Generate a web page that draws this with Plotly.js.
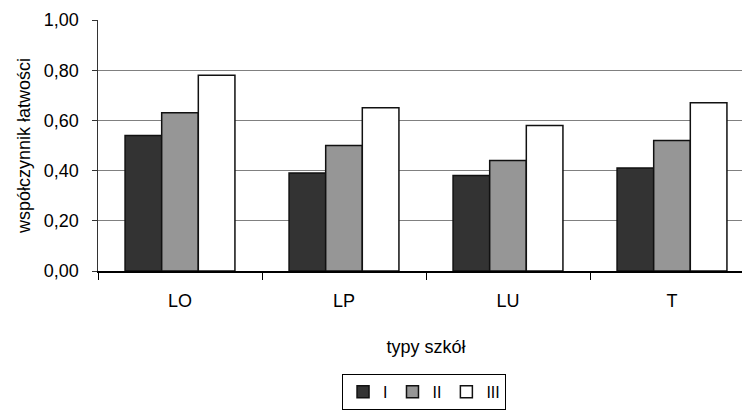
<!DOCTYPE html>
<html>
<head>
<meta charset="utf-8">
<script src="https://cdn.plot.ly/plotly-3.0.1.min.js"></script>
<style>
html,body{margin:0;padding:0;overflow:hidden;background:#fff;}
#chart{width:770px;height:412px;}
</style>
</head>
<body>
<div id="chart"></div>
<script>
const categories = ["LO", "LP", "LU", "T"];
const seriesNames = ["I", "II", "III"];
const valuesI = [0.54, 0.39, 0.38, 0.41];
const valuesII = [0.63, 0.50, 0.44, 0.52];
const valuesIII = [0.78, 0.65, 0.58, 0.67];
const yTickVals = [0, 0.2, 0.4, 0.6, 0.8, 1.0];
const yTickText = ["0,00", "0,20", "0,40", "0,60", "0,80", "1,00"];

const fills = ["#333333", "#969696", "#ffffff"];
const allValues = [valuesI, valuesII, valuesIII];

const traces = allValues.map((vals, i) => ({
  type: "bar",
  name: seriesNames[i],
  x: categories,
  y: vals,
  marker: {color: fills[i], line: {color: "#111111", width: 1.5}},
  hoverinfo: "skip"
}));

const font = "Liberation Sans, Arial, sans-serif";

const layout = {
  width: 770,
  height: 412,
  margin: {l: 98, r: 16, t: 20, b: 141},
  paper_bgcolor: "#ffffff",
  plot_bgcolor: "#ffffff",
  barmode: "group",
  bargap: 0.33,
  bargroupgap: 0,
  font: {family: font, size: 18, color: "#000000"},
  showlegend: true,
  legend: {
    orientation: "h",
    x: 0.497, xanchor: "center",
    yref: "container",
    y: 0.005, yanchor: "bottom",
    bordercolor: "#000000", borderwidth: 1,
    font: {family: font, size: 16, color: "#000"},
    itemwidth: 30,
    tracegroupgap: 0,
    traceorder: "normal"
  },
  xaxis: {
    type: "category",
    showgrid: false,
    showline: true,
    linecolor: "#000000",
    linewidth: 1.5,
    ticks: "outside",
    tickson: "boundaries",
    ticklen: 7,
    tickcolor: "#000000",
    tickfont: {family: font, size: 18, color: "#000"},
    ticklabelstandoff: 13,
    title: {text: "typy szkół", font: {family: font, size: 18, color: "#000"}, standoff: 30},
    fixedrange: true
  },
  yaxis: {
    range: [0, 1],
    tickvals: yTickVals,
    ticktext: yTickText,
    showgrid: true,
    gridcolor: "#808080",
    gridwidth: 1,
    zeroline: false,
    showline: true,
    linecolor: "#333333",
    linewidth: 1.5,
    ticks: "outside",
    ticklen: 5,
    tickcolor: "#333333",
    tickfont: {family: font, size: 18, color: "#000"},
    ticklabelstandoff: 9,
    title: {text: "współczynnik łatwości", font: {family: font, size: 18, color: "#000"}, standoff: 8},
    fixedrange: true
  }
};

Plotly.newPlot("chart", traces, layout, {staticPlot: true, displayModeBar: false});
</script>
</body>
</html>
